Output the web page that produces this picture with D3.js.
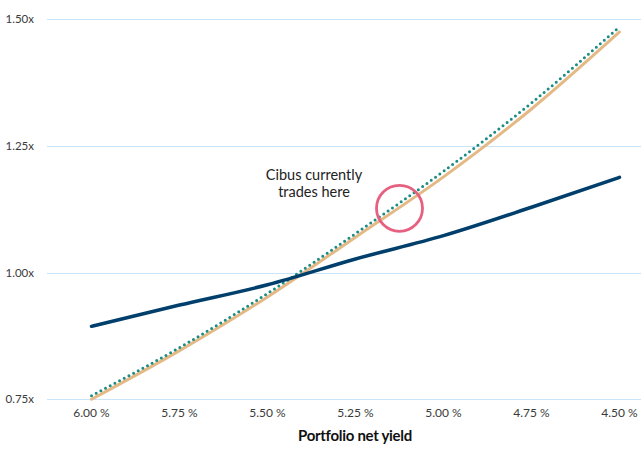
<!DOCTYPE html>
<html>
<head>
<meta charset="utf-8">
<script src="https://cdn.jsdelivr.net/npm/d3@7"></script>
<style>
  html, body { margin: 0; padding: 0; background: #fff; }
  svg { display: block; }
</style>
</head>
<body>
<svg id="chart" width="641" height="450"></svg>
<script>
// ---- data ----
const categories = ["6.00 %", "5.75 %", "5.50 %", "5.25 %", "5.00 %", "4.75 %", "4.50 %"];
const navySeries = [0.894, 0.936, 0.976, 1.027, 1.073, 1.129, 1.188];
const tanSeries  = [0.750, 0.846, 0.952, 1.070, 1.189, 1.323, 1.475];
const tealSeries = [0.757, 0.852, 0.959, 1.077, 1.200, 1.335, 1.485];
const yTicks = [0.75, 1.00, 1.25, 1.50];
const yTickLabels = ["0.75x", "1.00x", "1.25x", "1.50x"];
const annotationText = ["Cibus currently", "trades here"];
const annotationPoint = { between: ["5.25 %", "5.00 %"], value: 1.127 };
const xTitle = "Portfolio net yield";

// ---- layout ----
const svg = d3.select("#chart");
const font = "Lato, 'Open Sans', sans-serif";

const x = d3.scaleBand().domain(categories).range([47.5, 663.5]).padding(0);
const xc = c => x(c) + x.bandwidth() / 2;
const y = d3.scaleLinear().domain([0.75, 1.5]).range([399.3, 19.3]);

// gridlines
svg.append("g").selectAll("line").data(yTicks).join("line")
  .attr("x1", 47).attr("x2", 641)
  .attr("y1", d => Math.round(y(d)) + 0.5).attr("y2", d => Math.round(y(d)) + 0.5)
  .attr("stroke", "#c9e4f8").attr("stroke-width", 1);

// y axis labels
const yAxis = d3.axisLeft(y).tickValues(yTicks).tickSize(0).tickPadding(0)
  .tickFormat((d, i) => yTickLabels[i]);
const gy = svg.append("g").attr("transform", "translate(34,0)").call(yAxis);
gy.select(".domain").remove();
gy.selectAll("text").attr("font-family", font).attr("font-size", 11.5).attr("fill", "#3a3a3a");

// x axis labels
const xAxis = d3.axisBottom(x).tickSize(0).tickPadding(0);
const gx = svg.append("g").attr("transform", "translate(0,408.5)").call(xAxis);
gx.select(".domain").remove();
gx.selectAll("text").attr("font-family", font).attr("font-size", 12).attr("fill", "#3a3a3a");

// x title
svg.append("text").attr("x", 355).attr("y", 441).attr("text-anchor", "middle")
  .attr("font-family", font).attr("font-weight", "bold").attr("font-size", 15)
  .attr("letter-spacing", -0.3).attr("fill", "#111").text(xTitle);

// lines
const line = d3.line().x((d, i) => xc(categories[i])).y(d => y(d)).curve(d3.curveMonotoneX);

svg.append("path").datum(tanSeries).attr("d", line)
  .attr("fill", "none").attr("stroke", "#e5b985").attr("stroke-width", 3).attr("stroke-linecap", "round");

svg.append("path").datum(tealSeries).attr("d", line)
  .attr("fill", "none").attr("stroke", "#1a8c84").attr("stroke-width", 3)
  .attr("stroke-linecap", "round").attr("stroke-dasharray", "0 5.3");

svg.append("path").datum(navySeries).attr("d", line)
  .attr("fill", "none").attr("stroke", "#003f6c").attr("stroke-width", 3.5).attr("stroke-linecap", "round");

// annotation
const ax = (xc(annotationPoint.between[0]) + xc(annotationPoint.between[1])) / 2;
svg.append("circle").attr("cx", ax).attr("cy", y(annotationPoint.value)).attr("r", 23)
  .attr("fill", "none").attr("stroke", "#e6617f").attr("stroke-width", 2.8);

svg.append("g").selectAll("text").data(annotationText).join("text")
  .attr("x", 314).attr("y", (d, i) => 180 + i * 17)
  .attr("text-anchor", "middle").attr("font-family", font).attr("font-size", 14.5)
  .attr("fill", "#222").text(d => d);
</script>
</body>
</html>
